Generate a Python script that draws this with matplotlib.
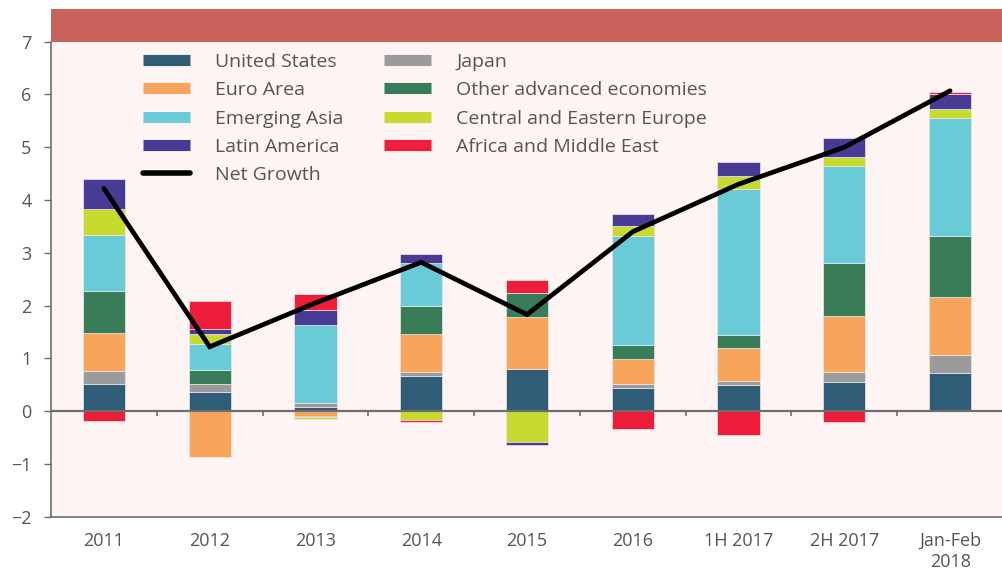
import numpy as np
import matplotlib
matplotlib.use('Agg')
import matplotlib.pyplot as plt
from matplotlib.lines import Line2D
from matplotlib.patches import Rectangle

plt.rcParams['font.family'] = ['Open Sans', 'DejaVu Sans']

# Categories and contributions (percentage points)
categories = ['2011', '2012', '2013', '2014', '2015', '2016', '1H 2017', '2H 2017', 'Jan-Feb\n2018']
united_states = [0.52, 0.36, 0.08, 0.66, 0.80, 0.43, 0.49, 0.55, 0.72]
japan = [0.24, 0.16, 0.08, 0.09, 0.00, 0.09, 0.09, 0.19, 0.35]
euro_area = [0.73, -0.87, -0.10, 0.71, 0.98, 0.47, 0.61, 1.06, 1.09]
other_adv = [0.79, 0.26, -0.02, 0.53, 0.46, 0.26, 0.25, 1.00, 1.15]
emerging_asia = [1.05, 0.50, 1.48, 0.82, 0.00, 2.06, 2.76, 1.85, 2.25]
cee = [0.50, 0.19, -0.03, -0.17, -0.58, 0.19, 0.25, 0.16, 0.16]
latin_america = [0.57, 0.08, 0.28, 0.17, -0.07, 0.23, 0.28, 0.36, 0.28]
africa_me = [-0.18, 0.54, 0.30, -0.03, 0.24, -0.33, -0.45, -0.21, 0.05]
net_growth = [4.22, 1.22, 2.05, 2.82, 1.83, 3.40, 4.30, 5.00, 6.07]

series = [
    ('United States', united_states, '#2f5d78'),
    ('Japan', japan, '#9b9b9b'),
    ('Euro Area', euro_area, '#f8a55c'),
    ('Other advanced economies', other_adv, '#387c58'),
    ('Emerging Asia', emerging_asia, '#69cad8'),
    ('Central and Eastern Europe', cee, '#c7da2e'),
    ('Latin America', latin_america, '#473b96'),
    ('Africa and Middle East', africa_me, '#ee1d3a'),
]

text_col = '#555555'
axis_col = '#6e6e6e'

fig = plt.figure(figsize=(10.03, 5.73), dpi=100)
ax = fig.add_axes([51 / 1003, 1 - 516.7 / 573, 1 - 51 / 1003, (516.7 - 41.7) / 573])
ax.set_facecolor('#fef4f3')

# red band above the plot
fig.add_artist(Rectangle((51 / 1003, 1 - 41.7 / 573), 1 - 51 / 1003, (41.7 - 9) / 573,
                         transform=fig.transFigure, facecolor='#c8625a', edgecolor='none'))

x = np.arange(len(categories))
pos_base = np.zeros(len(categories))
neg_base = np.zeros(len(categories))
for name, vals, col in series:
    v = np.array(vals)
    bottoms = np.where(v >= 0, pos_base, neg_base)
    ax.bar(x, v, 0.4, bottom=bottoms, color=col, edgecolor='#f0e8e8', linewidth=0.5, zorder=2)
    pos_base += np.where(v >= 0, v, 0)
    neg_base += np.where(v < 0, v, 0)

# zero line with small ticks between categories
ax.axhline(0, color=axis_col, lw=1.6, zorder=3)
ax.vlines(x[:-1] + 0.5, -0.1, 0, color=axis_col, lw=1.2, zorder=3)

ax.plot(x, net_growth, color='black', lw=3.4, solid_capstyle='round',
        solid_joinstyle='miter', zorder=4)

ax.set_xlim(-0.5, len(categories) - 0.5)
ax.set_ylim(-2, 7)
ax.set_yticks(range(-2, 8))
ax.set_xticks(x)
ax.set_xticklabels(categories)
ax.tick_params(axis='x', length=0, pad=11, labelsize=13, labelcolor=text_col)
ax.tick_params(axis='y', length=5, width=1, color=axis_col, pad=9, labelsize=13, labelcolor=text_col)
for s in ['top', 'right']:
    ax.spines[s].set_visible(False)
for s in ['left', 'bottom']:
    ax.spines[s].set_color(axis_col)
    ax.spines[s].set_linewidth(1.2)

handles = []
legend_order = [0, 2, 4, 6, None, 1, 3, 5, 7]
for i in legend_order:
    if i is None:
        handles.append(Line2D([], [], color='black', lw=4, solid_capstyle='round', label='Net Growth'))
    else:
        name, _, col = series[i]
        handles.append(Line2D([], [], color=col, lw=8, solid_capstyle='butt', label=name))
leg = ax.legend(handles=handles, ncol=2, frameon=False, loc='upper left',
                bbox_to_anchor=(143 / 1003, 1 - 53 / 573), bbox_transform=fig.transFigure,
                borderpad=0, borderaxespad=0, handlelength=2.4, handletextpad=1.3,
                columnspacing=2.1, labelspacing=0.53, fontsize=14)
for t in leg.get_texts():
    t.set_color(text_col)

fig.savefig('out.png', dpi=100)
